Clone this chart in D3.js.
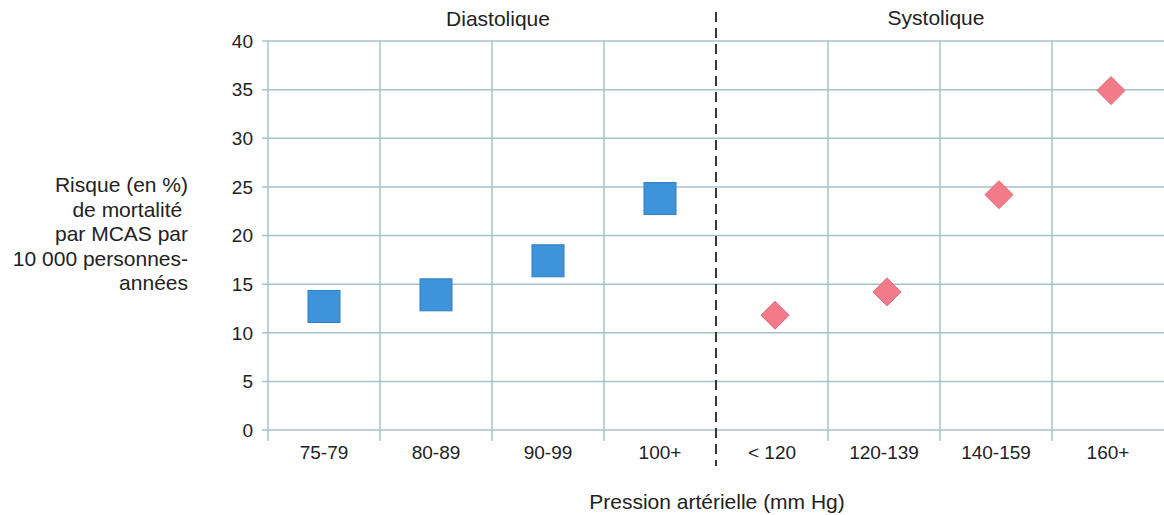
<!DOCTYPE html>
<html><head><meta charset="utf-8">
<script src="https://cdn.jsdelivr.net/npm/d3@7"></script>
<style>body{margin:0;background:#fff;} text{font-family:"Liberation Sans",Arial,sans-serif;fill:#222;}</style>
</head><body>
<svg id="c" width="1164" height="515"></svg>
<script>
const categories = ["75-79","80-89","90-99","100+","< 120","120-139","140-159","160+"];
const diastolicCats = ["75-79","80-89","90-99","100+"];
const diastolicValues = [12.7, 13.9, 17.4, 23.8];
const systolicCats = ["< 120","120-139","140-159","160+"];
const systolicValues = [11.8, 14.2, 24.2, 34.9];
const yTicks = [0,5,10,15,20,25,30,35,40];
const yTitleLines = ["Risque (en %)","de mortalité\u00a0","par MCAS par","10 000 personnes-","années"];

const svg = d3.select("#c");
const x = d3.scaleBand().domain(categories).range([268,1164]).padding(0);
const y = d3.scaleLinear().domain([0,40]).range([430,41]);
const grid = "#a6c3c9";

svg.append("g").selectAll("line").data(yTicks).join("line")
  .attr("x1",262).attr("x2",1164).attr("y1",d=>y(d)).attr("y2",d=>y(d))
  .attr("stroke",grid).attr("stroke-width",1.5);
const bounds = categories.map(c=>x(c)).filter((v,i)=>i!==4);
svg.append("g").selectAll("line").data(bounds).join("line")
  .attr("x1",d=>d).attr("x2",d=>d).attr("y1",y(40)).attr("y2",441)
  .attr("stroke",grid).attr("stroke-width",1.5);
svg.append("line").attr("x1",x("< 120")).attr("x2",x("< 120")).attr("y1",12).attr("y2",466)
  .attr("stroke","#222").attr("stroke-width",1.8).attr("stroke-dasharray","10,6");

svg.append("g").selectAll("text").data(yTicks).join("text")
  .attr("x",253).attr("y",d=>y(d)).attr("dy","0.36em").attr("text-anchor","end")
  .attr("font-size",19).text(d=>d);
svg.append("g").selectAll("text").data(categories).join("text")
  .attr("x",d=>x(d)+x.bandwidth()/2).attr("y",459).attr("text-anchor","middle")
  .attr("font-size",19).text(d=>d);

svg.append("text").attr("x",(x("75-79")+x("< 120"))/2+6).attr("y",26).attr("text-anchor","middle").attr("font-size",21).text("Diastolique");
svg.append("text").attr("x",(x("< 120")+1164)/2-4).attr("y",25).attr("text-anchor","middle").attr("font-size",21).text("Systolique");

svg.append("text").attr("text-anchor","end").attr("font-size",21)
  .selectAll("tspan").data(yTitleLines).join("tspan")
  .attr("x",188).attr("y",(d,i)=>192+i*24.5).text(d=>d);
svg.append("text").attr("x",717).attr("y",509).attr("text-anchor","middle").attr("font-size",21).text("Pression artérielle (mm Hg)");

const s = 32;
svg.append("g").selectAll("rect").data(diastolicCats.map((c,i)=>({c,v:diastolicValues[i]}))).join("rect")
  .attr("x",d=>x(d.c)+x.bandwidth()/2-s/2).attr("y",d=>y(d.v)-s/2)
  .attr("width",s).attr("height",s).attr("fill","#3e93db").attr("stroke","#2f7fc4").attr("stroke-width",1);
const h = 14;
svg.append("g").selectAll("path").data(systolicCats.map((c,i)=>({c,v:systolicValues[i]}))).join("path")
  .attr("transform",d=>`translate(${x(d.c)+x.bandwidth()/2+3},${y(d.v)})`)
  .attr("d",`M0,${-h}L${h},0L0,${h}L${-h},0Z`)
  .attr("fill","#f27a89").attr("stroke","#e0667a").attr("stroke-width",1);
</script>
</body></html>
